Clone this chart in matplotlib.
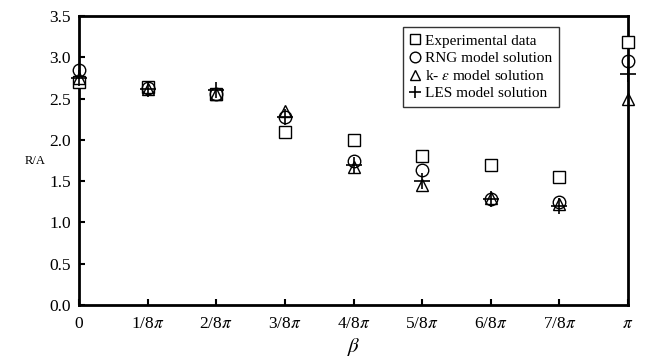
import numpy as np
import matplotlib
matplotlib.use("Agg")
import matplotlib.pyplot as plt

plt.rcParams['font.family'] = ['Liberation Serif', 'DejaVu Serif']
plt.rcParams['mathtext.fontset'] = 'stix'

beta_idx = [0, 1, 2, 3, 4, 5, 6, 7, 8]
tick_labels = ['0', r'1/8$\pi$', r'2/8$\pi$', r'3/8$\pi$', r'4/8$\pi$',
               r'5/8$\pi$', r'6/8$\pi$', r'7/8$\pi$', r'$\pi$']
experimental = [2.70, 2.64, 2.55, 2.10, 2.00, 1.80, 1.70, 1.55, 3.18]
rng_model = [2.85, 2.63, 2.55, 2.28, 1.75, 1.63, 1.28, 1.25, 2.95]
ke_model = [2.75, 2.62, 2.56, 2.35, 1.67, 1.45, 1.30, 1.22, 2.50]
les_model = [2.75, 2.62, 2.60, 2.28, 1.70, 1.50, 1.28, 1.20, 2.80]

fig = plt.figure(figsize=(6.48, 3.57), dpi=100)
ax = fig.add_axes([79/648, 1-305/357, (628-79)/648, (305-16)/357])

x = np.array(beta_idx) / 8.0 * np.pi
ms = 9
ax.plot(x, experimental, linestyle='none', marker='s', ms=ms, mfc='white', mec='black', mew=1.0,
        clip_on=False, label='Experimental data', zorder=3)
ax.plot(x, rng_model, linestyle='none', marker='o', ms=ms, mfc='none', mec='black', mew=1.0,
        clip_on=False, label='RNG model solution', zorder=4)
ax.plot(x, ke_model, linestyle='none', marker='^', ms=ms, mfc='none', mec='black', mew=1.0,
        clip_on=False, label=r'k- $\varepsilon$ model solution', zorder=5)
ax.plot(x, les_model, linestyle='none', marker='+', ms=11, mec='black', mew=1.2,
        clip_on=False, label='LES model solution', zorder=6)

ax.set_xlim(0, np.pi)
ax.set_ylim(0, 3.5)
ax.set_xticks(x)
ax.set_xticklabels(tick_labels)
ax.set_yticks(np.arange(0, 3.51, 0.5))
ax.set_yticklabels([f'{v:.1f}' for v in np.arange(0, 3.51, 0.5)])
ax.tick_params(axis='both', direction='in', labelsize=12.5, width=1.5, length=4, pad=6)
ax.tick_params(axis='x', pad=8)
for s in ax.spines.values():
    s.set_linewidth(2)

ax.text((35-79)/549, 0.5, 'R/A', transform=ax.transAxes, fontsize=9, ha='center', va='center')
ax.set_xlabel(r'$\beta$', fontsize=15, labelpad=3)

leg = ax.legend(loc='upper left', bbox_to_anchor=((403-79)/549, 1-(27-16)/289),
                borderaxespad=0,
                fontsize=11, frameon=True, fancybox=False, edgecolor='black',
                handlelength=0.7, handletextpad=0.3, borderpad=0.45, labelspacing=0.25,
                markerscale=0.85)
leg.get_frame().set_linewidth(1.0)

fig.savefig('out.png', dpi=100)
